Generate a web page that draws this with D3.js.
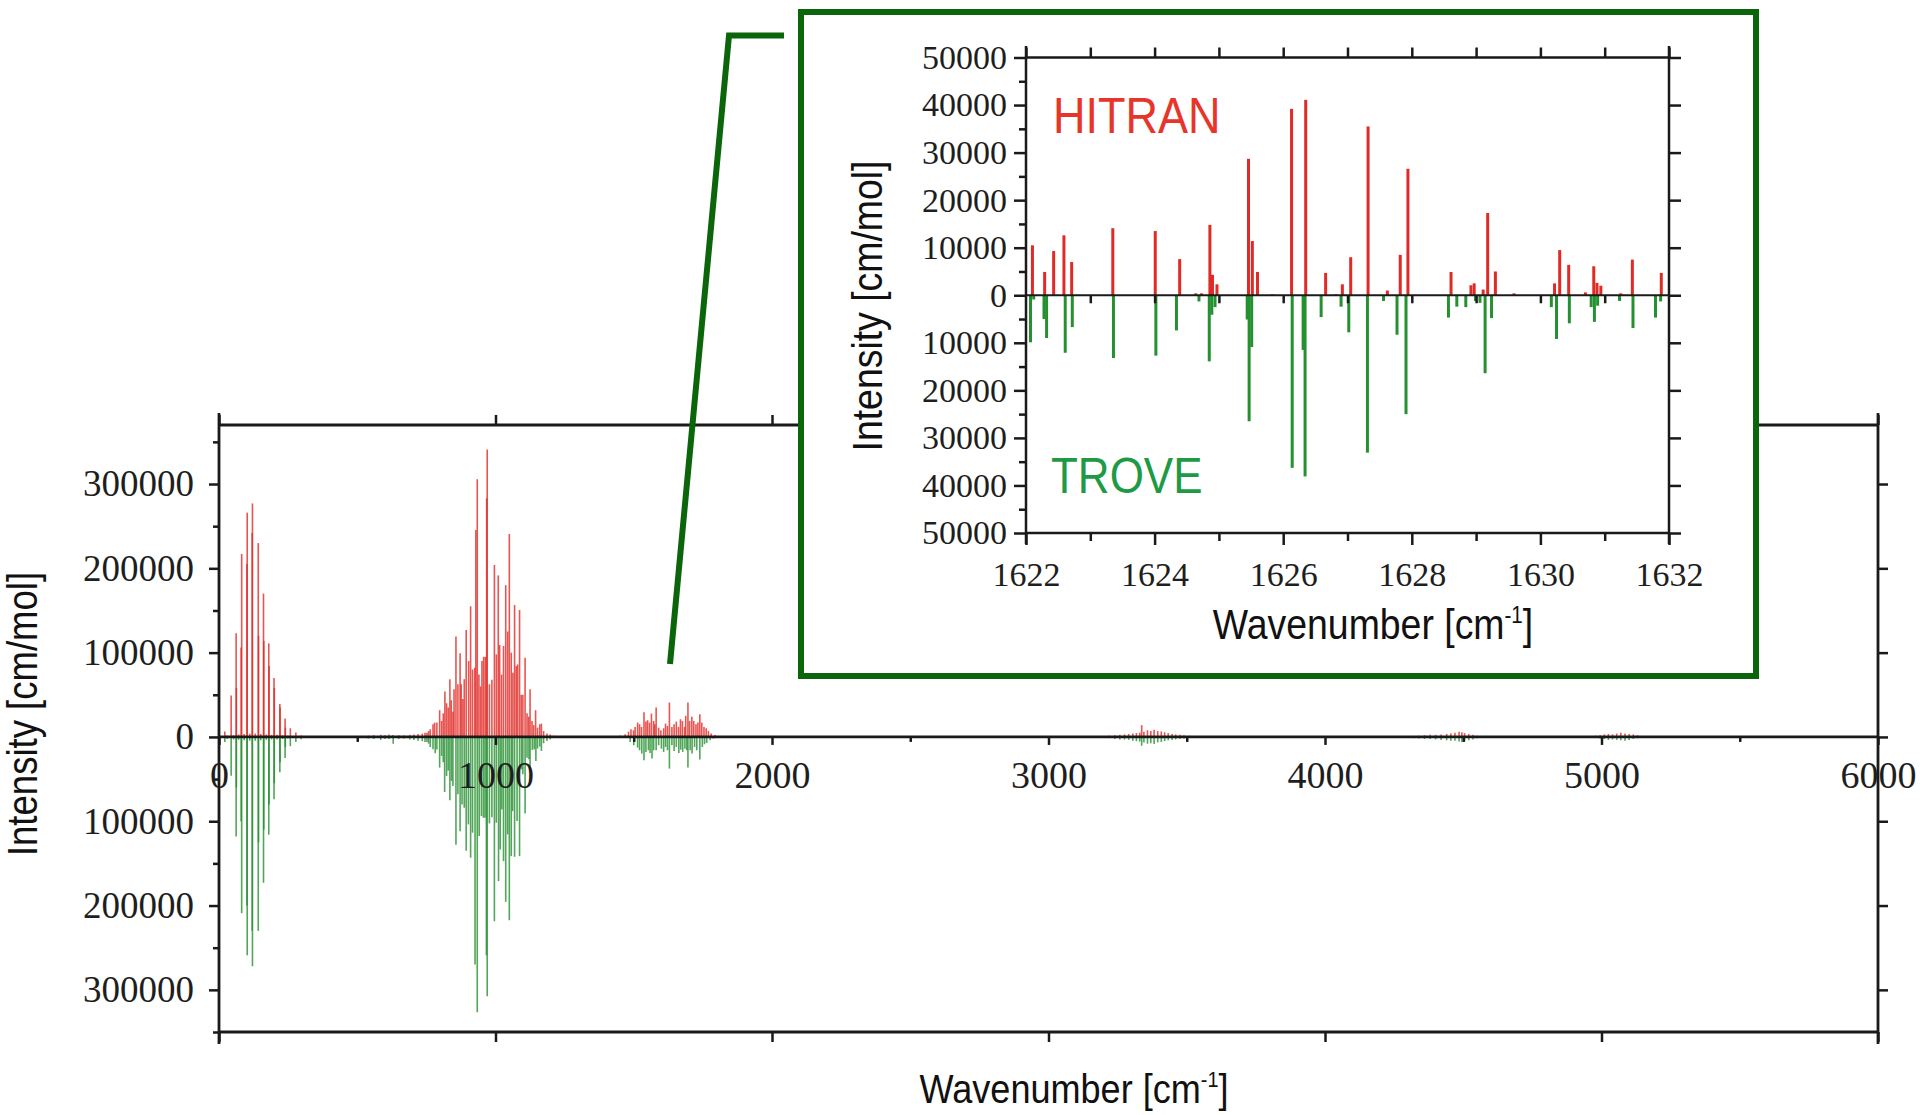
<!DOCTYPE html>
<html><head><meta charset="utf-8">
<script src="https://cdn.jsdelivr.net/npm/d3@7"></script>
<style>
html,body{margin:0;padding:0;background:#fff;}
svg{display:block;}
</style></head>
<body>
<svg id="chart" width="1920" height="1115"></svg>
<script>
// ---------------- DATA (wavenumber cm-1, intensity cm/mol) ----------------
const hitranRot = [[21,6300],[30,1500],[44,49000],[53,2000],[62,123000],[63,58000],[71,3000],[80,106000],[82,217000],[91,3500],[101,205000],[102,266000],[111,4000],[120,242000],[121,277000],[131,4000],[142,230000],[143,120000],[151,3500],[161,170000],[162,114000],[171,3000],[180,111000],[181,84000],[190,2500],[199,70000],[200,58000],[210,2500],[220,39000],[221,35000],[230,2000],[239,22000],[240,11000],[249,1500],[258,10300],[268,1200],[278,5200],[288,800],[297,1600]];
const troveRot = [[21,6000],[30,2500],[44,46000],[53,3000],[62,118000],[63,60000],[71,3500],[80,100000],[82,209000],[91,4000],[101,200000],[102,259000],[111,4500],[120,230000],[121,272000],[131,4500],[142,230000],[143,125000],[151,4000],[161,173000],[162,110000],[171,3500],[180,116000],[181,80000],[190,3000],[199,74000],[200,55000],[210,3000],[220,42000],[221,30000],[230,2500],[239,25000],[240,12000],[249,2000],[258,11000],[268,1500],[278,6000],[288,1000],[297,2800]];
const hitranLow = [[540,1500],[560,2000],[585,2500],[600,2000],[615,3000],[629,2400],[650,2000],[668,1800],[690,2500],[705,3000],[720,3500],[735,4000],[745,5000]];
const troveLow = [[540,2000],[560,2500],[585,3500],[600,2500],[615,2500],[630,8000],[650,2500],[668,2000],[690,3000],[705,3500],[720,4500],[735,5000],[745,6000]];
const hitranBand2 = [[752,5000],[758,7000],[764,9100],[774,15000],[780,17000],[788,17000],[798,31700],[805,19000],[811,28000],[817,54000],[823,40000],[829,35000],[835,68500],[840,43500],[846,30000],[850,56600],[857,119000],[864,62500],[872,99400],[876,62500],[882,45000],[887,68500],[894,126700],[903,90000],[910,155000],[917,80000],[925,82000],[929,245500],[934,305700],[940,74000],[946,60000],[951,90000],[957,95000],[963,95000],[968,283000],[970,341000],[978,62500],[987,67700],[996,204000],[1003,98000],[1010,191600],[1015,109000],[1022,74000],[1029,108000],[1037,180000],[1044,125000],[1050,240700],[1057,100000],[1063,76000],[1069,156400],[1075,84000],[1080,86000],[1087,150500],[1093,50000],[1099,50000],[1107,94000],[1114,28000],[1120,24000],[1125,56600],[1132,19000],[1138,14000],[1145,31700],[1152,11000],[1160,15000],[1166,15800],[1174,7000],[1186,4000],[1198,3000],[1210,1500]];
const troveBand2 = [[752,6000],[758,8000],[764,12000],[774,14700],[782,19400],[788,15000],[798,36400],[805,22600],[811,30000],[816,65300],[823,46300],[829,40000],[835,75000],[841,52300],[846,58200],[857,128000],[864,68100],[872,112000],[879,80000],[887,84000],[894,135000],[902,103800],[910,143300],[917,113600],[926,270000],[934,326700],[941,117600],[949,93900],[956,95800],[962,95800],[967,259000],[970,307700],[978,102600],[987,95400],[996,218600],[1003,101800],[1011,171000],[1017,133500],[1023,86000],[1029,147300],[1037,195600],[1044,115600],[1050,217400],[1057,141400],[1062,88000],[1069,142200],[1078,99800],[1087,141400],[1094,38400],[1099,44400],[1107,90700],[1114,24600],[1121,26500],[1125,40400],[1133,15400],[1140,14700],[1146,28500],[1152,13900],[1160,11500],[1166,16600],[1174,7500],[1186,4800],[1198,3000]];
const hitranBand3 = [[1451,1600],[1469,3200],[1481,6300],[1490,9100],[1499,7900],[1505,11900],[1514,17000],[1521,15000],[1528,11900],[1537,29300],[1544,18200],[1550,19800],[1557,17000],[1564,27700],[1572,19000],[1576,15000],[1581,34800],[1590,11000],[1598,7900],[1608,10300],[1615,15800],[1622,13100],[1629,40800],[1638,11900],[1646,15000],[1654,18200],[1662,11900],[1669,21000],[1676,19000],[1684,11900],[1688,25000],[1696,40800],[1702,19000],[1710,23800],[1717,19000],[1725,15000],[1732,17000],[1739,27000],[1746,17000],[1754,11900],[1762,10300],[1770,7100],[1780,4000],[1794,2400],[1812,1200]];
const troveBand3 = [[1487,5900],[1500,9900],[1514,12700],[1521,15800],[1529,19800],[1537,27700],[1544,17800],[1553,15800],[1559,19000],[1566,25700],[1572,15800],[1581,15800],[1590,9900],[1600,13900],[1608,17800],[1615,11900],[1622,15800],[1629,37600],[1638,9900],[1646,16600],[1654,11900],[1663,19000],[1670,15000],[1677,17800],[1685,13900],[1692,15800],[1696,36400],[1704,15800],[1711,19800],[1720,11900],[1728,15800],[1739,26900],[1748,11900],[1756,8700],[1764,7100],[1776,4000],[1788,2000]];
const hitranBand4 = [[3220,1500],[3240,2000],[3258,2500],[3275,3000],[3290,3500],[3305,4000],[3318,4500],[3330,5000],[3337,14000],[3345,6000],[3358,8000],[3370,7000],[3382,8500],[3395,7000],[3408,6500],[3420,5500],[3433,4500],[3447,3500],[3460,3000],[3475,2500],[3490,2000],[3510,1500],[3530,1000]];
const troveBand4 = [[3220,1500],[3240,2500],[3258,3000],[3275,3000],[3290,3500],[3305,4500],[3318,5000],[3330,5500],[3337,10500],[3345,6500],[3358,8000],[3370,7500],[3382,8500],[3395,6500],[3408,6000],[3420,5000],[3433,4000],[3447,3500],[3460,3000],[3475,2500],[3490,1800],[3510,1200],[3530,800]];
const hitranBand5 = [[4300,800],[4320,1200],[4340,1500],[4360,2000],[4380,2500],[4400,2500],[4420,3000],[4440,3500],[4455,4000],[4470,5000],[4485,6000],[4495,5500],[4505,4500],[4520,3500],[4535,2500],[4550,1500]];
const troveBand5 = [[4300,1000],[4320,1500],[4340,2000],[4360,2500],[4380,2500],[4400,3000],[4420,3500],[4440,4000],[4455,4500],[4470,4500],[4485,5500],[4495,6000],[4505,5000],[4520,4000],[4535,3000],[4550,1500]];
const hitranBand6 = [[4965,1000],[4980,1500],[4995,2000],[5010,3000],[5025,3500],[5040,3000],[5055,4000],[5070,5000],[5085,4000],[5100,3500],[5115,3000],[5130,2000],[5150,1200]];
const troveBand6 = [[4965,800],[4980,1200],[4995,1800],[5010,2500],[5025,3500],[5040,3000],[5055,3500],[5070,4000],[5085,4500],[5100,3500],[5115,2500],[5130,1500],[5150,1000]];

const insetHitran = [[1622.10,10500],[1622.29,4900],[1622.43,9300],[1622.59,12600],[1622.71,7000],[1623.35,14100],[1624.01,13500],[1624.39,7600],[1624.64,400],[1624.73,400],[1624.86,14800],[1624.90,4300],[1624.97,2300],[1625.46,28700],[1625.52,11400],[1625.60,4900],[1625.83,200],[1626.13,39200],[1626.35,41100],[1626.66,4700],[1626.82,200],[1626.92,2300],[1627.05,8000],[1627.32,35500],[1627.62,1000],[1627.82,8500],[1627.94,26600],[1628.61,4900],[1628.92,2100],[1628.97,2500],[1629.11,1200],[1629.18,17300],[1629.30,5000],[1629.59,400],[1630.22,2500],[1630.30,9500],[1630.44,6400],[1630.70,600],[1630.83,6100],[1630.88,2600],[1630.94,2000],[1631.25,400],[1631.43,7500],[1631.88,4700]];
const insetTrove = [[1622.07,9900],[1622.12,900],[1622.28,5000],[1622.32,9000],[1622.61,12100],[1622.72,6700],[1623.36,13200],[1624.02,12700],[1624.34,7400],[1624.69,1300],[1624.85,13900],[1624.89,4100],[1624.94,2500],[1625.44,5100],[1625.47,26500],[1625.51,10900],[1626.14,36300],[1626.31,11500],[1626.34,38100],[1626.59,4600],[1626.90,2400],[1627.02,7800],[1627.31,33100],[1627.56,1200],[1627.77,8300],[1627.91,25000],[1628.57,4700],[1628.70,2400],[1628.84,2500],[1628.99,1200],[1629.06,1600],[1629.14,16400],[1629.24,4800],[1630.17,2500],[1630.25,9200],[1630.45,5900],[1630.79,2500],[1630.84,5600],[1630.89,2200],[1631.23,1200],[1631.44,6900],[1631.79,4700],[1631.87,1300]];

const mainXTicks = [0,1000,2000,3000,4000,5000,6000];
const mainXMinor = [500,1500,2500,3500,4500,5500];
const mainYTicks = [-300000,-200000,-100000,0,100000,200000,300000];
const mainYMinor = [-350000,-250000,-150000,-50000,50000,150000,250000,350000];
const insetXTicks = [1622,1624,1626,1628,1630,1632];
const insetXMinor = [1623,1625,1627,1629,1631];
const insetYTicks = [-50000,-40000,-30000,-20000,-10000,0,10000,20000,30000,40000,50000];
const insetYMinor = [-45000,-35000,-25000,-15000,-5000,5000,15000,25000,35000,45000];
const xLabelMain = "Wavenumber [cm";
const xLabelSup = "-1";
const yLabelText = "Intensity [cm/mol]";
const seriesNames = ["HITRAN","TROVE"];

// ---------------- DRAW ----------------
const svg = d3.select("#chart");
const RED = "#e02a26", GREEN = "#25902f", AX = "#1a1a1a", BOX = "#0b650b";
const SERIF = "'Liberation Serif','Times New Roman',serif";
const SANS = "'Liberation Sans',Arial,sans-serif";

const x = d3.scaleLinear().domain([0,6000]).range([219,1878]);
const y = d3.scaleLinear().domain([-350000,370000]).range([1032,425]);
const y0 = y(0);

const hitranAll = [].concat(hitranRot,hitranLow,hitranBand2,hitranBand3,hitranBand4,hitranBand5,hitranBand6);
const troveAll = [].concat(troveRot,troveLow,troveBand2,troveBand3,troveBand4,troveBand5,troveBand6);

const main = svg.append("g");
main.append("g").selectAll("line").data(troveAll).join("line")
  .attr("x1",d=>x(d[0])).attr("x2",d=>x(d[0])).attr("y1",y0).attr("y2",d=>y(-d[1]))
  .attr("stroke",GREEN).attr("stroke-width",1.6).attr("stroke-opacity",0.8);
main.append("g").selectAll("line").data(hitranAll).join("line")
  .attr("x1",d=>x(d[0])).attr("x2",d=>x(d[0])).attr("y1",y0).attr("y2",d=>y(d[1]))
  .attr("stroke",RED).attr("stroke-width",1.6).attr("stroke-opacity",0.8);

function clean(g, fs){
  g.select(".domain").remove();
  g.selectAll(".tick line").attr("stroke",AX).attr("stroke-width",2.5);
  g.attr("font-family",SERIF).attr("font-size",fs);
  g.selectAll(".tick text").attr("fill","#1e1e1e");
}
function frameLine(x1,y1,x2,y2,w){
  svg.append("line").attr("x1",x1).attr("y1",y1).attr("x2",x2).attr("y2",y2)
    .attr("stroke",AX).attr("stroke-width",w||2.8).attr("stroke-linecap","butt");
}
// main frame
frameLine(219,413,219,1044); frameLine(1878,413,1878,1044);
frameLine(219,425,1878,425); frameLine(219,1032,1878,1032);
frameLine(219,y0,1878,y0);
svg.append("g").attr("transform","translate(219,0)").call(d3.axisLeft(y).tickValues(mainYTicks).tickSize(10).tickPadding(15).tickFormat(d=>Math.abs(d))).call(g=>clean(g,37));
svg.append("g").attr("transform","translate(219,0)").call(d3.axisLeft(y).tickValues(mainYMinor).tickSize(6).tickFormat("")).call(g=>clean(g,37));
svg.append("g").attr("transform","translate(1878,0)").call(d3.axisRight(y).tickValues(mainYTicks).tickSize(10).tickFormat("")).call(g=>clean(g,37));
svg.append("g").attr("transform","translate(0,425)").call(d3.axisTop(x).tickValues(mainXTicks).tickSize(10).tickFormat("")).call(g=>clean(g,37));
svg.append("g").attr("transform","translate(0,1032)").call(d3.axisBottom(x).tickValues(mainXTicks).tickSize(10).tickFormat("")).call(g=>clean(g,37));
svg.append("g").attr("transform",`translate(0,${y0})`).call(d3.axisBottom(x).tickValues(mainXTicks).tickSize(8).tickPadding(16).tickFormat(d3.format("d"))).call(g=>clean(g,38));
svg.append("g").attr("transform",`translate(0,${y0})`).call(d3.axisBottom(x).tickValues(mainXMinor).tickSize(5).tickFormat("")).call(g=>clean(g,38));

function squeezedText(parent, tx, ty, rot, sx, size, anchor, fill, content, sup){
  const g = parent.append("g").attr("transform",`translate(${tx},${ty}) rotate(${rot}) scale(${sx},1)`);
  const t = g.append("text").attr("text-anchor",anchor).attr("font-family",SANS).attr("font-size",size).attr("fill",fill).text(content);
  if(sup){ t.append("tspan").attr("font-size",size*0.55).attr("dy",-size*0.38).text(sup);
           t.append("tspan").attr("dy",size*0.38).text("]"); }
  return g;
}
squeezedText(svg,1074,1103,0,0.88,41,"middle","#111",xLabelMain,xLabelSup);
squeezedText(svg,37,714,-90,0.87,42,"middle","#111",yLabelText);

// connector + inset box
svg.append("polyline").attr("points",[[670,664],[729,35.5],[784,35.5]].map(p=>p.join(",")).join(" "))
  .attr("fill","none").attr("stroke",BOX).attr("stroke-width",6);
svg.append("rect").attr("x",801).attr("y",12).attr("width",955).attr("height",664)
  .attr("fill","#fff").attr("stroke",BOX).attr("stroke-width",6);

// inset
const xi = d3.scaleLinear().domain([1622,1632]).range([1026,1669]);
const yi = d3.scaleLinear().domain([-50000,50000]).range([533,57.5]);
const yi0 = yi(0);
const ins = svg.append("g");
ins.append("g").selectAll("line").data(insetTrove).join("line")
  .attr("x1",d=>xi(d[0])).attr("x2",d=>xi(d[0])).attr("y1",yi0).attr("y2",d=>yi(-d[1]))
  .attr("stroke",GREEN).attr("stroke-width",3);
ins.append("g").selectAll("line").data(insetHitran).join("line")
  .attr("x1",d=>xi(d[0])).attr("x2",d=>xi(d[0])).attr("y1",yi0).attr("y2",d=>yi(d[1]))
  .attr("stroke",RED).attr("stroke-width",3);

frameLine(1026,46,1026,544,2.5); frameLine(1669,46,1669,544,2.5);
frameLine(1026,57.5,1669,57.5,2.5); frameLine(1026,533,1669,533,2.5);
frameLine(1026,yi0,1669,yi0,2.2);
svg.append("g").attr("transform","translate(1026,0)").call(d3.axisLeft(yi).tickValues(insetYTicks).tickSize(12).tickPadding(7).tickFormat(d=>Math.abs(d))).call(g=>clean(g,34));
svg.append("g").attr("transform","translate(1026,0)").call(d3.axisLeft(yi).tickValues(insetYMinor).tickSize(7).tickFormat("")).call(g=>clean(g,34));
svg.append("g").attr("transform","translate(1669,0)").call(d3.axisRight(yi).tickValues(insetYTicks).tickSize(12).tickFormat("")).call(g=>clean(g,34));
svg.append("g").attr("transform","translate(0,57.5)").call(d3.axisTop(xi).tickValues(insetXTicks.concat(insetXMinor)).tickSize(10).tickFormat("")).call(g=>clean(g,34));
svg.append("g").attr("transform","translate(0,533)").call(d3.axisBottom(xi).tickValues(insetXTicks).tickSize(12).tickPadding(17).tickFormat(d3.format("d"))).call(g=>clean(g,34));
svg.append("g").attr("transform","translate(0,533)").call(d3.axisBottom(xi).tickValues(insetXMinor).tickSize(8).tickFormat("")).call(g=>clean(g,34));
svg.append("g").attr("transform",`translate(0,${yi0})`).call(d3.axisBottom(xi).tickValues(insetXTicks.concat(insetXMinor).filter(v=>v>1622&&v<1632)).tickSize(8).tickFormat("")).call(g=>clean(g,34));

squeezedText(svg,1373,639,0,0.87,43,"middle","#111",xLabelMain,xLabelSup);
squeezedText(svg,882,306,-90,0.87,43,"middle","#111",yLabelText);
squeezedText(svg,1053,133,0,0.9,50,"start","#e8352c",seriesNames[0]);
squeezedText(svg,1051,493,0,0.88,50,"start","#1e9a45",seriesNames[1]);
</script>
</body></html>
